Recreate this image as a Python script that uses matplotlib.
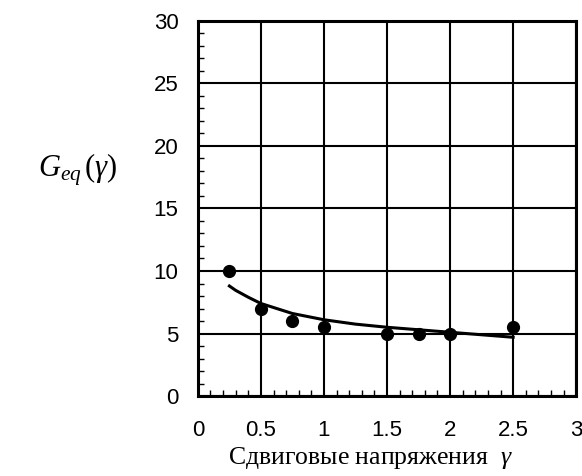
import numpy as np
import matplotlib
matplotlib.use('Agg')
import matplotlib.pyplot as plt
from matplotlib.ticker import MultipleLocator

plt.rcParams['mathtext.fontset'] = 'custom'
plt.rcParams['mathtext.rm'] = 'Liberation Serif'
plt.rcParams['mathtext.it'] = 'Liberation Serif:italic'

# measured points
gamma_pts = [0.25, 0.5, 0.75, 1.0, 1.5, 1.75, 2.0, 2.5]
geq_pts = [10.0, 7.0, 6.0, 5.5, 5.0, 5.0, 5.0, 5.5]

# fitted curve
gamma_fit = [0.25, 0.3, 0.4, 0.5, 0.75, 1.0, 1.25, 1.5, 1.75, 2.0, 2.25, 2.5]
geq_fit = [8.8, 8.45, 7.9, 7.4, 6.6, 6.1, 5.75, 5.5, 5.3, 5.1, 4.9, 4.7]

xticks = [0, 0.5, 1, 1.5, 2, 2.5, 3]
xticklabels = ['0', '0.5', '1', '1.5', '2', '2.5', '3']
yticks = [0, 5, 10, 15, 20, 25, 30]

fig = plt.figure(figsize=(5.82, 4.76), dpi=100)
ax = fig.add_axes([0.340, 0.168, 0.650, 0.788])

ax.plot(gamma_fit, geq_fit, color='black', linewidth=2.2, zorder=3)
ax.plot(gamma_pts, geq_pts, 'o', color='black', markersize=8.5, zorder=4)

ax.set_xlim(0, 3)
ax.set_ylim(0, 30)
ax.set_xticks(xticks)
ax.set_xticklabels(xticklabels)
ax.set_yticks(yticks)
ax.xaxis.set_minor_locator(MultipleLocator(0.1))
ax.yaxis.set_minor_locator(MultipleLocator(1))

ax.grid(True, which='major', color='black', linewidth=1.5)
ax.tick_params(which='major', length=0, pad=14, labelsize=16)
ax.tick_params(axis='x', which='major', pad=17)
ax.tick_params(which='minor', direction='in', length=4, width=1, color='black')
ax.tick_params(which='minor', top=False, right=False)
for lab in ax.get_xticklabels() + ax.get_yticklabels():
    lab.set_family('Liberation Sans')

for s in ax.spines.values():
    s.set_linewidth(2.2)

fig.text(0.636, 0.038, 'Сдвиговые напряжения  $\\mathit{\\gamma}$', ha='center', va='center',
         fontsize=18.5, family='Liberation Serif')
fig.text(0.133, 0.643, '$G_{eq}\\,(\\gamma)$', ha='center', va='center', fontsize=22)

plt.savefig('out.png', dpi=100)
